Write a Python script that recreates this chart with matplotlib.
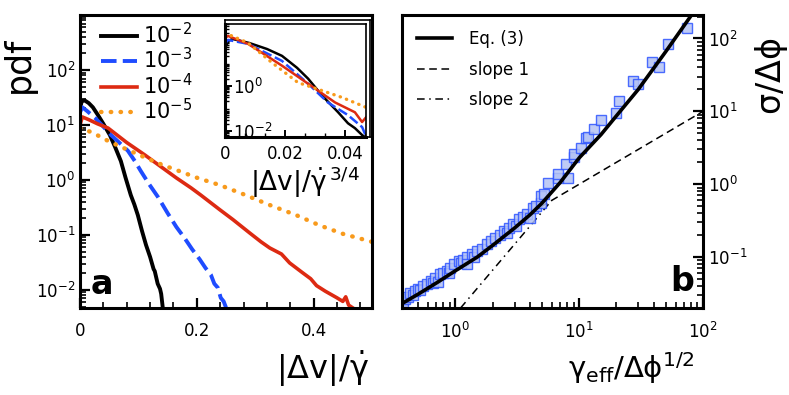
import numpy as np
import matplotlib
matplotlib.use("Agg")
import matplotlib.pyplot as plt
from matplotlib.ticker import LogLocator, MultipleLocator, NullFormatter, FixedLocator
from matplotlib.lines import Line2D

plt.rcParams['font.family'] = ['DejaVu Sans']
plt.rcParams['mathtext.fontset'] = 'dejavusans'

# ---- panel a: pdf of |dv|/gamma_dot for four shear rates ----
rate_labels = ['$10^{-2}$', '$10^{-3}$', '$10^{-4}$', '$10^{-5}$']

black_x = [0, 0.003, 0.008, 0.015, 0.022, 0.031, 0.040, 0.051, 0.060, 0.070, 0.078, 0.087,
           0.093, 0.099, 0.106, 0.113, 0.120, 0.126, 0.128, 0.133, 0.137, 0.139, 0.142]
black_y = [20, 27, 28, 25, 21, 15, 10.5, 6.6, 4.0, 2.2, 1.1, 0.53,
           0.36, 0.23, 0.12, 0.066, 0.040, 0.024, 0.022, 0.013, 0.0105, 0.0085, 0.0045]

blue_x = [0, 0.004, 0.012, 0.026, 0.040, 0.053, 0.068, 0.082, 0.094, 0.104, 0.118, 0.133,
          0.150, 0.165, 0.179, 0.192, 0.205, 0.215, 0.224, 0.230, 0.236, 0.241, 0.246, 0.250]
blue_y = [17, 21, 18, 13.4, 9.3, 6.6, 4.7, 3.4, 2.2, 1.46, 0.85, 0.50,
          0.25, 0.14, 0.088, 0.055, 0.036, 0.025, 0.019, 0.013, 0.011, 0.0072, 0.0062, 0.0048]

red_x = [0, 0.004, 0.015, 0.030, 0.048, 0.080, 0.111, 0.140, 0.165, 0.190, 0.207, 0.239,
         0.262, 0.290, 0.310, 0.325, 0.345, 0.359, 0.380, 0.395, 0.405, 0.420, 0.440,
         0.450, 0.455, 0.460, 0.470]
red_y = [10, 14, 12.5, 10.5, 8.8, 4.8, 2.85, 1.7, 1.09, 0.72, 0.53, 0.29,
         0.19, 0.11, 0.075, 0.058, 0.045, 0.031, 0.021, 0.016, 0.012, 0.0095, 0.0072,
         0.0062, 0.0075, 0.0053, 0.0045]

orange_x = [0, 0.01, 0.03, 0.05, 0.08, 0.11, 0.14, 0.17, 0.20, 0.239, 0.28, 0.325,
            0.37, 0.41, 0.45, 0.50]
orange_y = [8.8, 8.2, 6.5, 5.0, 3.6, 2.6, 1.9, 1.45, 1.1, 0.81, 0.55, 0.35,
            0.23, 0.15, 0.105, 0.075]

# inset: rescaled by gamma_dot^(3/4)
black_in_x = [0, 0.001, 0.0025, 0.008, 0.014, 0.019, 0.024, 0.0277, 0.0323, 0.0377,
              0.041, 0.0433, 0.0457, 0.047]
black_in_y = [40, 90, 110, 74, 40, 20, 6, 2.0, 0.37, 0.067, 0.022, 0.0135, 0.0067, 0.005]
blue_in_x = [0, 0.001, 0.0077, 0.019, 0.0277, 0.0343, 0.041, 0.0457, 0.047]
blue_in_y = [70, 100, 67, 12, 1.2, 0.18, 0.05, 0.015, 0.006]
red_in_x = [0, 0.001, 0.0077, 0.019, 0.030, 0.0367, 0.0433, 0.0457, 0.047]
red_in_y = [120, 150, 67, 7.4, 0.74, 0.18, 0.067, 0.025, 0.04]
orange_in_x = [0, 0.0023, 0.0077, 0.0157, 0.0243, 0.0323, 0.039, 0.0457, 0.047]
orange_in_y = [200, 150, 74, 10, 1.35, 0.6, 0.3, 0.13, 0.11]

# ---- panel b: sigma/dphi vs gamma_eff/dphi^(1/2) ----
sim_x = [0.37, 0.38, 0.39, 0.41, 0.43, 0.45, 0.47, 0.50, 0.52, 0.55, 0.59, 0.63, 0.66, 0.69,
         0.72, 0.75, 0.80, 0.85, 0.88, 0.91, 0.97, 1.06, 1.10, 1.15, 1.25, 1.25, 1.35, 1.42,
         1.5, 1.65, 1.8, 1.95, 2.1, 2.3, 2.45, 2.6, 2.7, 2.9, 3.1, 3.25, 3.5, 3.8, 4.0, 4.2,
         4.5, 4.9, 4.9, 5.2, 5.6, 6.7, 6.7, 7.8, 8.1, 9.1, 9.1, 10.4, 11.4, 11.8, 13.2, 15,
         20, 21, 27, 30, 38.5, 44, 52, 74]
sim_y = [0.025, 0.022, 0.027, 0.028, 0.032, 0.030, 0.034, 0.037, 0.035, 0.040, 0.043, 0.047,
         0.044, 0.052, 0.045, 0.058, 0.060, 0.065, 0.060, 0.071, 0.080, 0.088, 0.082, 0.092,
         0.100, 0.080, 0.110, 0.100, 0.120, 0.130, 0.150, 0.165, 0.180, 0.200, 0.230, 0.215,
         0.250, 0.280, 0.265, 0.330, 0.360, 0.390, 0.340, 0.470, 0.500, 0.550, 0.680, 0.730,
         1.03, 1.20, 1.37, 1.90, 1.20, 2.40, 2.60, 3.10, 4.30, 4.50, 5.70, 7.70, 9.40, 13.7,
         26, 24, 48, 41, 83, 141]

eq3_x = [0.37, 0.5, 0.7, 1.0, 1.5, 2.0, 3.0, 4.0, 5.0, 7.0, 10, 15, 20, 30, 50, 80]
eq3_y = [0.023, 0.031, 0.044, 0.065, 0.10, 0.145, 0.25, 0.38, 0.55, 1.05, 2.3, 4.8, 8.7,
         20, 66, 205]

slope1_x = [4, 100]
slope1_y = [0.4, 10]
slope2_x = [1.1, 6]
slope2_y = [0.02, 0.6]

W, H = 789, 395
fig = plt.figure(figsize=(W / 100, H / 100), dpi=100)

def fbox(x0, y0, x1, y1):
    # pixel box -> figure fraction [left, bottom, width, height]
    return [x0 / W, 1 - y1 / H, (x1 - x0) / W, (y1 - y0) / H]

spine_w = 2.2
tick_fs = 12
blue_dash = (4.0, 1.6)
dots = (0.1, 2.1)

ax1 = fig.add_axes(fbox(80, 15, 372, 308))
ax2 = fig.add_axes(fbox(402, 15, 703, 308))

for ax in (ax1, ax2):
    for s in ax.spines.values():
        s.set_linewidth(spine_w)
    ax.tick_params(which='major', direction='in', length=7, width=1.6, labelsize=tick_fs)
    ax.tick_params(which='minor', direction='in', length=4, width=1.2)

# panel a
ax1.plot(black_x, black_y, color='black', lw=2.8, solid_capstyle='butt')
ax1.plot(blue_x, blue_y, color='#1f4cff', lw=2.8, dashes=blue_dash)
ax1.plot(red_x, red_y, color='#dd2a12', lw=2.6)
ax1.plot(orange_x, orange_y, color='#f89a1c', lw=3.2, dashes=dots, dash_capstyle='round')
ax1.set_yscale('log')
ax1.set_xlim(0, 0.5)
ax1.set_ylim(0.0047, 1000)
ax1.set_yticks([1e-2, 1e-1, 1e0, 1e1, 1e2])
ax1.set_yticklabels(['$10^{-2}$', '$10^{-1}$', '$10^{0}$', '$10^{1}$', '$10^{2}$'])
ax1.yaxis.set_minor_locator(LogLocator(base=10, subs=np.arange(2, 10)))
ax1.yaxis.set_minor_formatter(NullFormatter())
ax1.set_xticks([0, 0.2, 0.4])
ax1.set_xticklabels(['0', '0.2', '0.4'])
ax1.xaxis.set_minor_locator(MultipleLocator(0.04))
ax1.tick_params(axis='both', which='both', top=False, right=False)
ax1.tick_params(axis='x', pad=10)
ax1.set_xlabel(r'$\mathrm{|\Delta v|/\dot{\gamma}}$', fontsize=23, labelpad=6, x=0.83)
ax1.set_ylabel('pdf', fontsize=25, labelpad=0)
ax1.yaxis.set_label_coords(-0.15, 0.83)
ax1.text(0.035, 0.025, 'a', transform=ax1.transAxes, fontsize=24, fontweight='bold',
         ha='left', va='bottom')

handles = [Line2D([], [], color='black', lw=2.8),
           Line2D([], [], color='#1f4cff', lw=2.8, dashes=blue_dash),
           Line2D([], [], color='#dd2a12', lw=2.6),
           Line2D([], [], color='#f89a1c', lw=3.2, dashes=dots, dash_capstyle='round')]
ax1.legend(handles, rate_labels, loc='upper left', bbox_to_anchor=(0.03, 1.02), frameon=False,
           fontsize=15, handlelength=1.7, handletextpad=0.3, labelspacing=0.02,
           borderaxespad=0.2)

# inset with double frame
frame = fig.add_axes(fbox(225, 20, 370, 137))
frame.set_xticks([])
frame.set_yticks([])
for s in frame.spines.values():
    s.set_linewidth(1.2)

axi = fig.add_axes(fbox(225, 24, 366, 137))
for s in axi.spines.values():
    s.set_linewidth(1.2)
axi.spines['left'].set_linewidth(2.2)
axi.spines['bottom'].set_linewidth(2.2)
axi.plot(black_in_x, black_in_y, color='black', lw=1.8)
axi.plot(blue_in_x, blue_in_y, color='#1f4cff', lw=1.8, dashes=(4, 1.5))
axi.plot(red_in_x, red_in_y, color='#dd2a12', lw=1.8)
axi.plot(orange_in_x, orange_in_y, color='#f89a1c', lw=2.4, dashes=(0.1, 1.9),
         dash_capstyle='round')
axi.set_yscale('log')
axi.set_xlim(0, 0.047)
axi.set_ylim(0.0055, 500)
axi.set_yticks([1e-2, 1e0])
axi.set_yticklabels(['$10^{-2}$', '$10^{0}$'])
axi.yaxis.set_minor_locator(LogLocator(base=10, subs=np.arange(2, 10), numticks=20))
axi.yaxis.set_minor_formatter(NullFormatter())
axi.set_xticks([0, 0.02, 0.04])
axi.set_xticklabels(['0', '0.02', '0.04'])
axi.xaxis.set_minor_locator(MultipleLocator(0.02 / 3))
axi.tick_params(which='major', direction='in', length=5, width=1.4, labelsize=tick_fs,
                top=False, right=False)
axi.tick_params(which='minor', direction='in', length=3, width=1.0, top=False, right=False)
for lab in axi.get_yticklabels():
    lab.set_horizontalalignment('left')
axi.tick_params(axis='y', pad=-6)
axi.tick_params(axis='x', pad=6)
axi.set_xlabel(r'$\mathrm{|\Delta v|/\dot{\gamma}^{\,3/4}}$', fontsize=19, labelpad=1, x=0.57)

# panel b
ax2.plot(slope1_x, slope1_y, color='black', lw=1.1, dashes=(5, 3), zorder=1)
ax2.plot(slope2_x, slope2_y, color='black', lw=1.1, dashes=(5, 3, 1, 3), zorder=1)
ax2.plot(sim_x, sim_y, ls='none', marker='s', ms=6.5, mfc='#b4c2f4', mec='#2f55ff',
         mew=1.0, alpha=0.85, zorder=2)
ax2.plot(eq3_x, eq3_y, color='black', lw=2.6, zorder=3)
ax2.set_xscale('log')
ax2.set_yscale('log')
ax2.set_xlim(0.37, 100)
ax2.set_ylim(0.02, 210)
ax2.xaxis.set_major_locator(FixedLocator([1, 10, 100]))
ax2.set_xticklabels(['$10^{0}$', '$10^{1}$', '$10^{2}$'])
ax2.xaxis.set_minor_locator(LogLocator(base=10, subs=np.arange(2, 10), numticks=20))
ax2.xaxis.set_minor_formatter(NullFormatter())
ax2.yaxis.set_major_locator(FixedLocator([0.1, 1, 10, 100]))
ax2.set_yticklabels(['$10^{-1}$', '$10^{0}$', '$10^{1}$', '$10^{2}$'])
ax2.yaxis.set_minor_locator(LogLocator(base=10, subs=np.arange(2, 10), numticks=20))
ax2.yaxis.set_minor_formatter(NullFormatter())
ax2.tick_params(axis='both', which='both', left=False, top=False, right=True,
                labelleft=False, labelright=True)
ax2.tick_params(axis='x', pad=10)
ax2.yaxis.set_label_position('right')
ax2.set_ylabel(r'$\mathrm{\sigma/\Delta\phi}$', fontsize=24, rotation=90, labelpad=6)
ax2.yaxis.set_label_coords(1.165, 0.79)
ax2.set_xlabel(r'$\mathrm{\gamma_{eff}/\Delta\phi^{1/2}}$', fontsize=21, labelpad=6, x=0.76)
ax2.text(0.97, 0.035, 'b', transform=ax2.transAxes, fontsize=24, fontweight='bold',
         ha='right', va='bottom')

h2 = [Line2D([], [], color='black', lw=2.6),
      Line2D([], [], color='black', lw=1.1, dashes=(5, 3)),
      Line2D([], [], color='black', lw=1.1, dashes=(5, 3, 1, 3))]
ax2.legend(h2, ['Eq. (3)', 'slope 1', 'slope 2'], loc='upper left', frameon=False,
           fontsize=12, handlelength=2.1, handletextpad=1.0, labelspacing=0.75,
           bbox_to_anchor=(0.0, 1.0), borderaxespad=0.5)

fig.savefig('out.png', dpi=100)
